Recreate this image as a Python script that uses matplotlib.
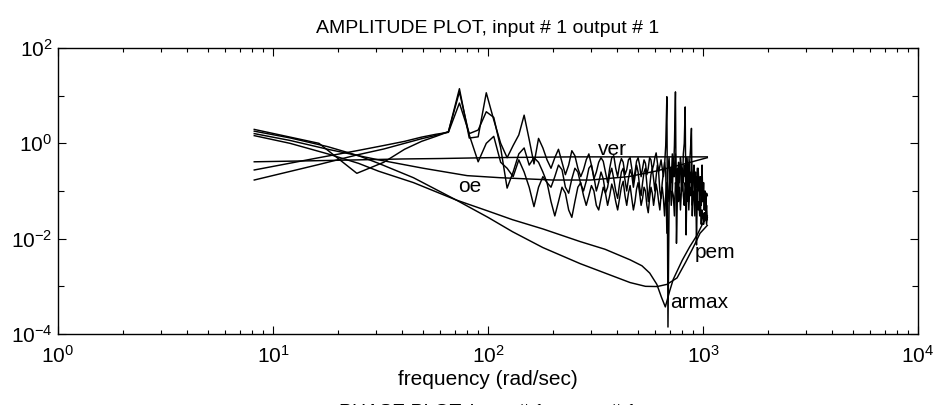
import numpy as np
import matplotlib
matplotlib.use("Agg")
import matplotlib.pyplot as plt
from matplotlib.ticker import FixedLocator, LogFormatterSciNotation, NullFormatter

plt.rcParams["font.family"] = ["Liberation Sans", "DejaVu Sans"]
plt.rcParams["mathtext.fontset"] = "custom"
plt.rcParams["mathtext.rm"] = "Liberation Sans"
plt.rcParams["mathtext.default"] = "regular"

# frequency grid of the spectral estimates (rad/sec), 128 points up to Nyquist
N = 128
w_nyq = 1047.2
w = np.arange(1, N + 1) * w_nyq / N

# spectral amplitude estimates
amp_a = [1.96, 1.0, 0.235, 0.4, 0.75, 1.1, 1.4, 1.75, 14.0, 1.29,
	1.37, 11.5, 3.1, 1.0, 0.5, 0.9, 1.5, 3.9, 1.2, 0.37,
	1.27, 0.8, 0.45, 0.3, 0.5, 0.75, 0.4, 0.22, 0.35, 0.7,
	0.55, 0.3, 0.2, 0.28, 0.45, 0.6, 0.35, 0.18, 0.25, 0.4,
	0.5, 0.42, 0.25, 0.15, 0.3, 0.5, 0.55, 0.3, 0.2, 0.35,
	0.48, 0.4, 0.22, 0.28, 0.45, 0.5, 0.3, 0.16, 0.25, 0.42,
	0.5, 0.35, 0.2, 0.3, 0.45, 0.38, 0.22, 0.3, 0.5, 0.45,
	0.28, 0.35, 0.5, 0.63, 0.4, 0.25, 0.33, 0.45, 0.3, 0.2,
	0.35, 0.9, 9.5, 0.00014, 0.05, 0.3, 0.15, 0.6, 0.2, 0.9,
	12.0, 0.008, 0.1, 0.4, 0.15, 0.5, 0.3, 0.1, 0.6, 1.0,
	5.8, 0.012, 0.2, 0.5, 0.15, 0.4, 0.8, 2.06, 0.03, 0.2,
	0.35, 0.1, 0.25, 0.0074, 0.1, 0.3, 0.15, 0.05, 0.2, 0.1,
	0.35, 0.06, 0.15, 0.04, 0.1, 0.03, 0.05, 0.025]

amp_b = [0.276, 0.5, 0.7, 0.9, 1.1, 1.35, 1.55, 1.7, 7.0, 1.6,
	1.9, 4.6, 3.5, 0.8, 0.115, 0.25, 0.6, 0.8, 0.35, 0.5,
	0.4, 0.25, 0.15, 0.12, 0.2, 0.35, 0.28, 0.12, 0.09, 0.18,
	0.3, 0.25, 0.14, 0.1, 0.16, 0.3, 0.35, 0.2, 0.1, 0.15,
	0.25, 0.18, 0.09, 0.12, 0.22, 0.3, 0.18, 0.1, 0.07, 0.14,
	0.25, 0.3, 0.17, 0.1, 0.18, 0.28, 0.22, 0.12, 0.2, 0.35,
	0.25, 0.12, 0.08, 0.15, 0.25, 0.3, 0.14, 0.06, 0.12, 0.22,
	0.3, 0.18, 0.1, 0.2, 0.35, 0.25, 0.1, 0.07, 0.15, 0.25,
	0.4, 0.25, 0.013, 0.3, 0.5, 0.15, 0.3, 0.1, 0.45, 0.2,
	0.6, 0.12, 0.3, 0.08, 0.25, 0.4, 0.1, 0.3, 0.15, 0.35,
	0.2, 0.5, 0.1, 0.3, 0.06, 0.25, 0.15, 0.4, 0.1, 0.2,
	0.3, 0.05, 0.2, 0.12, 0.3, 0.1, 0.2, 0.08, 0.15, 0.05,
	0.12, 0.06, 0.1, 0.04, 0.08, 0.05, 0.09, 0.08]

amp_c = [0.17, 0.36, 0.57, 0.76, 1.0, 1.25, 1.47, 1.75, 12.0, 1.5,
	0.41, 1.0, 1.4, 0.4, 0.3, 0.2, 0.45, 0.25, 0.12, 0.047,
	0.12, 0.2, 0.15, 0.06, 0.03, 0.06, 0.12, 0.09, 0.04, 0.028,
	0.06, 0.12, 0.15, 0.08, 0.05, 0.08, 0.13, 0.1, 0.05, 0.04,
	0.07, 0.12, 0.09, 0.05, 0.08, 0.14, 0.1, 0.06, 0.04, 0.07,
	0.12, 0.16, 0.08, 0.05, 0.09, 0.13, 0.07, 0.04, 0.06, 0.11,
	0.15, 0.09, 0.05, 0.07, 0.12, 0.1, 0.05, 0.035, 0.07, 0.12,
	0.09, 0.05, 0.08, 0.14, 0.1, 0.06, 0.04, 0.08, 0.12, 0.07,
	0.03, 0.08, 0.15, 0.06, 0.12, 0.2, 0.05, 0.1, 0.08, 0.03,
	0.15, 0.1, 0.2, 0.06, 0.12, 0.04, 0.1, 0.25, 0.08, 0.05,
	0.15, 0.1, 0.06, 0.2, 0.04, 0.12, 0.08, 0.15, 0.05, 0.1,
	0.07, 0.03, 0.09, 0.05, 0.12, 0.04, 0.06, 0.03, 0.05, 0.02,
	0.04, 0.03, 0.02, 0.035, 0.025, 0.03, 0.02, 0.03]

# parametric model responses
ver_w = [8.18, 15, 25, 40, 60, 100, 160, 250, 400, 650, 1047]
ver_a = [0.41, 0.43, 0.45, 0.47, 0.48, 0.50, 0.51, 0.52, 0.52, 0.52, 0.52]

oe_w = [8.18, 12, 18, 25, 31, 50, 80, 114, 200, 300, 450, 600, 800, 1047]
oe_a = [1.6, 1.15, 0.75, 0.55, 0.45, 0.3, 0.21, 0.19, 0.17, 0.17, 0.2, 0.26, 0.36, 0.5]

armax_w = [8.18, 12, 18, 25, 31, 45, 71, 100, 130, 180, 268, 350, 458, 520, 565,
	610, 640, 668, 700, 727, 800, 868, 940, 998, 1047]
armax_a = [1.45, 1.0, 0.6, 0.38, 0.26, 0.15, 0.065, 0.038, 0.025, 0.016, 0.0087, 0.006,
	0.0036, 0.0027, 0.0019, 0.0011, 0.0006, 0.00037, 0.0008, 0.0014, 0.0035, 0.0068,
	0.012, 0.021, 0.028]

pem_w = [8.18, 12, 18, 25, 31, 45, 71, 100, 130, 180, 268, 350, 458, 540, 612,
	680, 757, 830, 900, 969, 1047]
pem_a = [1.8, 1.3, 0.85, 0.55, 0.38, 0.19, 0.065, 0.028, 0.014, 0.0065, 0.003, 0.0019,
	0.0012, 0.001, 0.00099, 0.0011, 0.0015, 0.0032, 0.0065, 0.013, 0.019]

model_labels = ["ver", "oe", "pem", "armax"]
label_pos = [(325, 0.57), (72.5, 0.095), (918, 0.004), (703, 0.00035)]


def main():
	fig = plt.figure(figsize=(9.39, 4.05), dpi=100)
	ax = fig.add_axes([58 / 939, 1 - 334 / 405, 860 / 939, 286 / 405])
	lw = 1.05
	for amp in (amp_a, amp_b, amp_c):
		ax.plot(w, amp, color="k", linewidth=lw)
	ax.plot(ver_w, ver_a, color="k", linewidth=lw)
	ax.plot(oe_w, oe_a, color="k", linewidth=lw)
	ax.plot(armax_w, armax_a, color="k", linewidth=lw)
	ax.plot(pem_w, pem_a, color="k", linewidth=lw)

	for name, (x, y) in zip(model_labels, label_pos):
		ax.text(x, y, name, fontsize=15, ha="left", va="baseline")

	ax.set_xscale("log")
	ax.set_yscale("log")
	ax.set_xlim(1, 1e4)
	ax.set_ylim(1e-4, 1e2)

	ax.xaxis.set_major_locator(FixedLocator([1, 10, 100, 1000, 10000]))
	minors = [m * 10.0 ** e for e in range(0, 4) for m in range(2, 10)]
	ax.xaxis.set_minor_locator(FixedLocator(minors))
	ax.xaxis.set_minor_formatter(NullFormatter())
	ax.xaxis.set_major_formatter(LogFormatterSciNotation())
	ax.yaxis.set_major_locator(FixedLocator([1e-4, 1e-2, 1, 1e2]))
	ax.yaxis.set_minor_locator(FixedLocator([1e-3, 1e-1, 10]))
	ax.yaxis.set_minor_formatter(NullFormatter())
	ax.yaxis.set_major_formatter(LogFormatterSciNotation())

	ax.tick_params(which="both", direction="in", top=True, right=True, width=0.8, labelsize=15)
	ax.tick_params(which="major", length=6)
	ax.tick_params(which="minor", length=3)
	ax.tick_params(axis="y", which="minor", length=4)
	ax.tick_params(axis="x", pad=8)
	ax.tick_params(axis="y", pad=4)
	for s in ax.spines.values():
		s.set_linewidth(1.0)

	ax.set_xlabel("frequency (rad/sec)", fontsize=15, labelpad=2)
	ax.set_title("AMPLITUDE PLOT, input # 1 output # 1", fontsize=14, pad=11)
	# next plot's title, cut by the bottom edge
	fig.text(488 / 939, 1 / 405, "PHASE PLOT, input # 1 output # 1", fontsize=14,
		ha="center", va="top")

	fig.savefig("out.png", dpi=100)


if __name__ == "__main__":
	main()
